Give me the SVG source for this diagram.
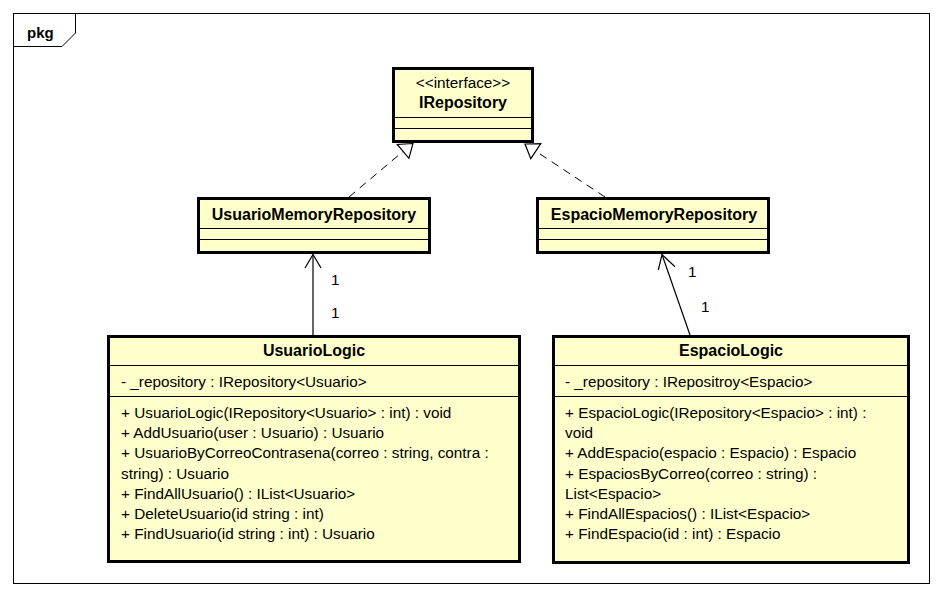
<svg xmlns="http://www.w3.org/2000/svg" width="942" height="596" viewBox="0 0 942 596">
<style>
.bg{fill:#ffffff}
.frame{fill:none;stroke:#000;stroke-width:1}
.box{fill:#ffffcc;stroke:#000;stroke-width:3}
.sep{stroke:#000;stroke-width:1;fill:none}
.t{font-family:"Liberation Sans",Arial,sans-serif;font-size:15.3px;fill:#000}
.b{font-family:"Liberation Sans",Arial,sans-serif;font-size:16px;font-weight:bold;fill:#000}
.c{text-anchor:middle}
.dash{fill:none;stroke:#000;stroke-width:1;stroke-dasharray:8,6}
.line{fill:none;stroke:#000;stroke-width:1.2}
.tri{fill:#fff;stroke:#000;stroke-width:1.2}
</style>
<rect class="bg" x="0" y="0" width="942" height="596"/>
<g id="frame">
<rect class="frame" x="13.5" y="13.5" width="916" height="570"/>
<path class="frame" d="M13.5,46.5 H62 L75.5,33 V13.5"/>
<text class="b" x="27" y="38" style="font-size:15px">pkg</text>
</g>
<g id="IRepository">
<rect class="box" x="393.5" y="68.5" width="139" height="73"/>
<line class="sep" x1="393" y1="117.5" x2="533" y2="117.5"/>
<line class="sep" x1="393" y1="128.5" x2="533" y2="128.5"/>
<text class="t c" x="463" y="88">&lt;&lt;interface&gt;&gt;</text>
<text class="b c" x="463" y="108">IRepository</text>
</g>
<g id="UsuarioMemoryRepository">
<rect class="box" x="198.5" y="198.5" width="231" height="54"/>
<line class="sep" x1="198" y1="228.5" x2="430" y2="228.5"/>
<line class="sep" x1="198" y1="239.5" x2="430" y2="239.5"/>
<text class="b c" x="314" y="220">UsuarioMemoryRepository</text>
</g>
<g id="EspacioMemoryRepository">
<rect class="box" x="537.5" y="198.5" width="231" height="54"/>
<line class="sep" x1="537" y1="228.5" x2="769" y2="228.5"/>
<line class="sep" x1="537" y1="239.5" x2="769" y2="239.5"/>
<text class="b c" x="654" y="220">EspacioMemoryRepository</text>
</g>
<g id="UsuarioLogic">
<rect class="box" x="108.5" y="336.5" width="411" height="225"/>
<line class="sep" x1="108" y1="365.5" x2="520" y2="365.5"/>
<line class="sep" x1="108" y1="396.5" x2="520" y2="396.5"/>
<text class="b c" x="314" y="356">UsuarioLogic</text>
<text class="t" x="121" y="387">- _repository : IRepository&lt;Usuario&gt;</text>
<text class="t" x="121" y="418">+ UsuarioLogic(IRepository&lt;Usuario&gt; : int) : void</text>
<text class="t" x="121" y="438.2">+ AddUsuario(user : Usuario) : Usuario</text>
<text class="t" x="121" y="458.4">+ UsuarioByCorreoContrasena(correo : string, contra :</text>
<text class="t" x="121" y="478.6">string) : Usuario</text>
<text class="t" x="121" y="498.8">+ FindAllUsuario() : IList&lt;Usuario&gt;</text>
<text class="t" x="121" y="519">+ DeleteUsuario(id string : int)</text>
<text class="t" x="121" y="539.2">+ FindUsuario(id string : int) : Usuario</text>
</g>
<g id="EspacioLogic">
<rect class="box" x="553.5" y="336.5" width="355" height="226"/>
<line class="sep" x1="553" y1="365.5" x2="909" y2="365.5"/>
<line class="sep" x1="553" y1="396.5" x2="909" y2="396.5"/>
<text class="b c" x="731" y="356">EspacioLogic</text>
<text class="t" x="565" y="387">- _repository : IRepositroy&lt;Espacio&gt;</text>
<text class="t" x="565" y="418">+ EspacioLogic(IRepository&lt;Espacio&gt; : int) :</text>
<text class="t" x="565" y="438.2">void</text>
<text class="t" x="565" y="458.4">+ AddEspacio(espacio : Espacio) : Espacio</text>
<text class="t" x="565" y="478.6">+ EspaciosByCorreo(correo : string) :</text>
<text class="t" x="565" y="498.8">List&lt;Espacio&gt;</text>
<text class="t" x="565" y="519">+ FindAllEspacios() : IList&lt;Espacio&gt;</text>
<text class="t" x="565" y="539.2">+ FindEspacio(id : int) : Espacio</text>
</g>
<g id="connectors">
<line class="dash" x1="349" y1="197" x2="403.1" y2="151.4"/>
<polygon class="tri" points="413,143.5 397.3,144.5 408.9,158.3"/>
<line class="dash" x1="605" y1="197" x2="535.8" y2="151.2"/>
<polygon class="tri" points="525,144 540.8,143.7 530.8,158.7"/>
<line class="line" x1="313" y1="335" x2="313" y2="254.5"/>
<polyline class="line" points="305,268 313,254.5 321,268"/>
<line class="line" x1="690" y1="335" x2="662" y2="254.5"/>
<polyline class="line" points="658.3,270 662,254.5 675,266.7"/>
<text class="t" x="331" y="285">1</text>
<text class="t" x="331" y="318">1</text>
<text class="t" x="688" y="277">1</text>
<text class="t" x="701" y="312">1</text>
</g>
</svg>
